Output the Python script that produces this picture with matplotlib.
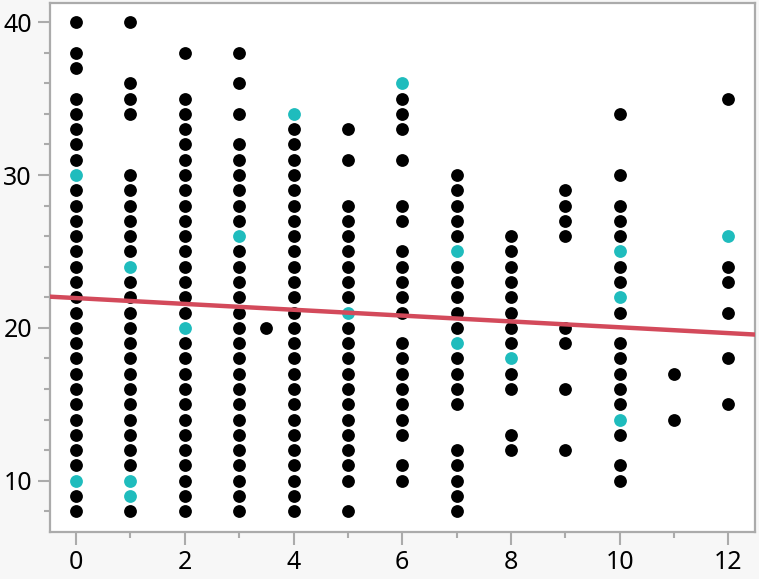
import matplotlib
matplotlib.use("Agg")
import matplotlib.pyplot as plt
from matplotlib.ticker import MultipleLocator

plt.rcParams["font.family"] = ["Noto Sans", "DejaVu Sans"]

# black points, one list per x value
col_x = [0, 1, 2, 3, 3.5, 4, 5, 6, 7, 8, 9, 10, 11, 12]
col_y = [
    [40, 38, 37, 35, 34, 33, 32, 31, 29, 28, 27, 26, 25, 24, 23, 22, 21, 20, 19, 18, 17, 16, 15, 14, 13, 12, 11, 9, 8],
    [40, 36, 35, 34, 30, 29, 28, 27, 26, 25, 23, 22, 21, 20, 19, 18, 17, 16, 15, 14, 13, 12, 11, 8],
    [38, 35, 34, 33, 32, 31, 30, 29, 28, 27, 26, 25, 24, 23, 22, 21, 19, 18, 17, 16, 15, 14, 13, 12, 11, 10, 9, 8],
    [38, 36, 34, 32, 31, 30, 29, 28, 27, 25, 24, 23, 22, 21, 20, 19, 18, 17, 16, 15, 14, 13, 12, 11, 10, 9, 8],
    [20],
    [33, 32, 31, 30, 29, 28, 27, 26, 25, 24, 23, 22, 21, 20, 19, 18, 17, 16, 15, 14, 13, 12, 11, 10, 9, 8],
    [33, 31, 28, 27, 26, 25, 24, 23, 22, 20, 19, 18, 17, 16, 15, 14, 13, 12, 11, 10, 8],
    [35, 34, 33, 31, 28, 27, 25, 24, 23, 22, 21, 19, 18, 17, 16, 15, 14, 13, 11, 10],
    [30, 29, 28, 27, 26, 24, 23, 22, 21, 20, 18, 17, 16, 15, 12, 11, 10, 9, 8],
    [26, 25, 24, 23, 22, 21, 20, 19, 17, 16, 13, 12],
    [29, 28, 27, 26, 20, 19, 16, 12],
    [34, 30, 28, 27, 26, 24, 23, 21, 19, 18, 17, 16, 15, 13, 11, 10],
    [17, 14],
    [35, 24, 23, 21, 18, 15],
]

# highlighted (cyan) points
hl_x = [0, 0, 1, 1, 1, 2, 3, 4, 5, 6, 7, 7, 8, 10, 10, 10, 12]
hl_y = [30, 10, 24, 10, 9, 20, 26, 34, 21, 36, 25, 19, 18, 25, 22, 14, 26]

# fitted line
fit_intercept = 21.95
fit_slope = -0.191

xs = []
ys = []
for cx, cy in zip(col_x, col_y):
    for v in cy:
        xs.append(cx)
        ys.append(v)

fig = plt.figure(figsize=(7.59, 5.79), dpi=100, facecolor="#f7f7f7")
ax = fig.add_axes([50 / 759, 47 / 579, 705 / 759, 529 / 579])
ax.set_facecolor("white")

ax.scatter(xs, ys, s=85, color="black", linewidths=0, zorder=2)
ax.scatter(hl_x, hl_y, s=85, color="#1fbcbd", linewidths=0, zorder=2)

xlim = (-0.48, 12.49)
ax.plot(xlim, [fit_intercept + fit_slope * v for v in xlim], color="#d34a5b", lw=3.2, zorder=3)

ax.set_xlim(*xlim)
ax.set_ylim(6.65, 41.25)

ax.xaxis.set_major_locator(MultipleLocator(2))
ax.xaxis.set_minor_locator(MultipleLocator(1))
ax.yaxis.set_major_locator(MultipleLocator(10))
ax.yaxis.set_minor_locator(MultipleLocator(2))

for sp in ax.spines.values():
    sp.set_color("#ababab")
    sp.set_linewidth(1.6)

ax.tick_params(which="major", length=9, width=1.5, color="#ababab", labelsize=18, pad=4)
ax.tick_params(which="minor", length=4.5, width=1.5, color="#ababab")

plt.savefig("out.png", dpi=100, facecolor=fig.get_facecolor())
